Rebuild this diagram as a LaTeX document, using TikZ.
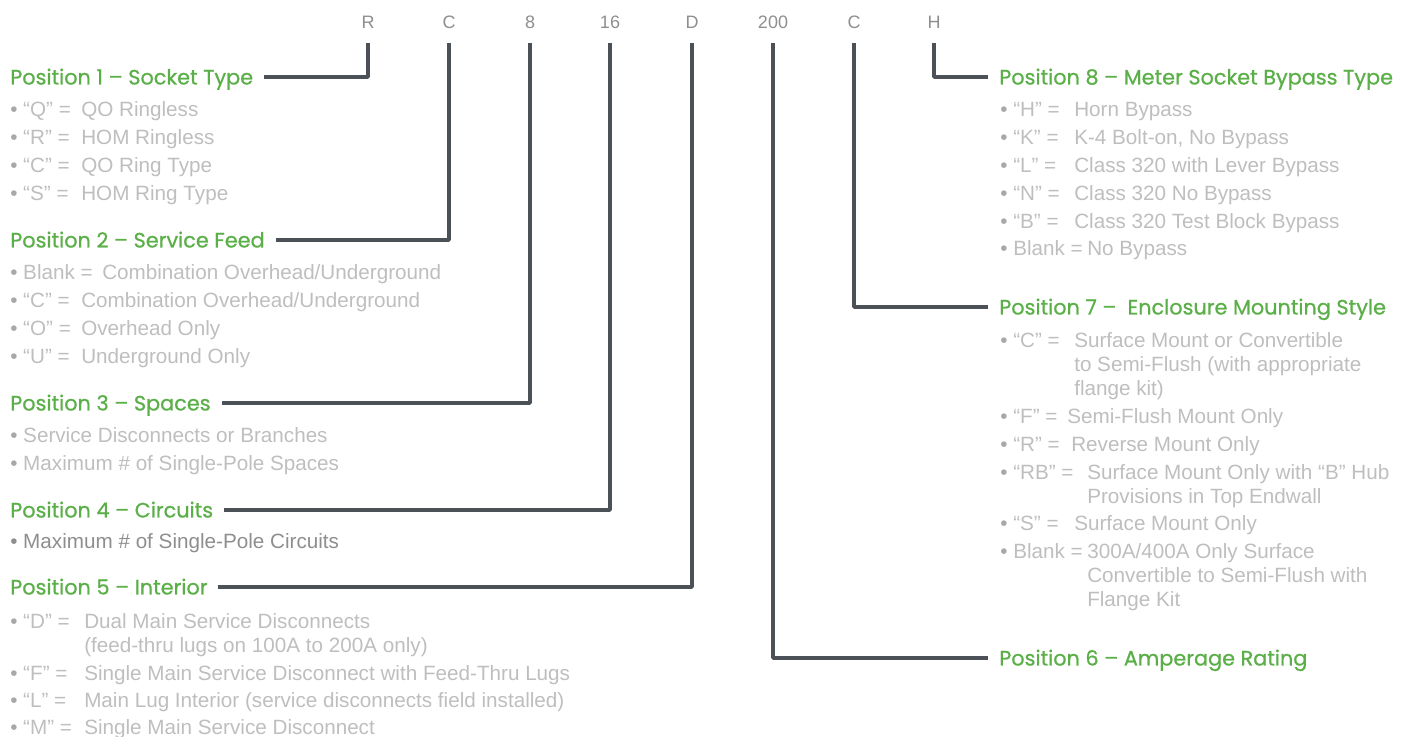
\documentclass[tikz,border=0pt]{standalone}
\usepackage{fontspec}
\setmainfont{Liberation Sans}
\newfontfamily\headfont{Poppins}[FakeBold=0.8]
\definecolor{segreen}{HTML}{5BAF48}
\definecolor{wire}{HTML}{4B5157}
\definecolor{lite}{HTML}{BEBEBE}
\definecolor{dot}{HTML}{A8A8A8}
\definecolor{code}{HTML}{8E8E8E}
\newcommand\itemdot{{\color{dot}\textbullet}\ }
\tikzset{
  digit/.style={font=\fontsize{13.5}{16}\selectfont, text=code, anchor=base, inner sep=0pt},
  head/.style={font=\headfont\fontsize{15.6}{18}\selectfont, text=segreen, anchor=west,
    inner sep=0pt, text height=11.2pt, text depth=0pt},
  item/.style={font=\fontsize{15.5}{18}\selectfont, text=lite, anchor=base west,
    inner sep=0pt, yshift=-5.3pt},
  link/.style={draw=wire, line width=2.6pt, line join=round, shorten <=11pt, shorten >=8pt},
}
\begin{document}
\begin{tikzpicture}[x=0.75pt,y=-0.75pt]
  \useasboundingbox (0,0) rectangle (1416,736);
  \foreach \n/\l/\x in {1/R/368,2/C/449,3/8/530,4/16/610,5/D/692,6/200/773,7/C/854,8/H/934}
    \node[digit] (d\n) at (\x,28) {\l};
  \node[head] (p1) at (10,77) {Position 1 – Socket Type};
  \node[head] (p2) at (10,240) {Position 2 – Service Feed};
  \node[head] (p3) at (10,403) {Position 3 – Spaces};
  \node[head] (p4) at (10,510) {Position 4 – Circuits};
  \node[head] (p5) at (10,587) {Position 5 – Interior};
  \node[head] (p6) at (999,658) {Position 6 – Amperage Rating};
  \node[head] (p7) at (999,307) {Position 7 –\ \ Enclosure Mounting Style};
  \node[head] (p8) at (999,77) {Position 8 – Meter Socket Bypass Type};
  \foreach \n in {1,...,8}
    \draw[link] (d\n) |- (p\n);
  \foreach \x/\y/\dx/\k/\t [count=\i] in {
    10/109/81/{“Q” =}/{QO Ringless}, 10/137/81/{“R” =}/{HOM Ringless},
    10/165/81/{“C” =}/{QO Ring Type}, 10/193/81/{“S” =}/{HOM Ring Type},
    10/272/102/{Blank =}/{Combination Overhead/Underground},
    10/300/81/{“C” =}/{Combination Overhead/Underground},
    10/328/81/{“O” =}/{Overhead Only}, 10/356/81/{“U” =}/{Underground Only},
    10/621/84/{“D” =}/{Dual Main Service Disconnects},
    10/673/84/{“F” =}/{Single Main Service Disconnect with Feed-Thru Lugs},
    10/700/84/{“L” =}/{Main Lug Interior (service disconnects field installed)},
    10/727/84/{“M” =}/{Single Main Service Disconnect},
    1000/109/1074/{“H” =}/{Horn Bypass}, 1000/137/1074/{“K” =}/{K-4 Bolt-on, No Bypass},
    1000/165/1074/{“L” =}/{Class 320 with Lever Bypass},
    1000/193/1074/{“N” =}/{Class 320 No Bypass},
    1000/221/1074/{“B” =}/{Class 320 Test Block Bypass},
    1000/248/1087/{Blank =}/{No Bypass},
    1000/340/1074/{“C” =}/{Surface Mount or Convertible},
    1000/416/1067/{“F” =}/{Semi-Flush Mount Only},
    1000/444/1071/{“R” =}/{Reverse Mount Only},
    1000/472/1087/{“RB” =}/{Surface Mount Only with “B” Hub},
    1000/523/1074/{“S” =}/{Surface Mount Only},
    1000/551/1087/{Blank =}/{300A/400A Only Surface}} {
    \node[item] (k\i) at (\x,\y) {\itemdot\k};
    \node[item] (t\i) at (\dx,\y) {\t};
  }
  \foreach \y/\t [count=\i] in {435/{Service Disconnects or Branches},
    463/{Maximum \# of Single-Pole Spaces}}
    \node[item] (s\i) at (10,\y) {\itemdot\t};
  \node[item, text=code] (c1) at (10,541) {{\color{code}\textbullet}\ Maximum \# of Single-Pole Circuits};
  \foreach \x/\y/\t [count=\i] in {84/645/{(feed-thru lugs on 100A to 200A only)},
    1074/364/{to Semi-Flush (with appropriate}, 1074/388/{flange kit)},
    1087/496/{Provisions in Top Endwall}, 1087/575/{Convertible to Semi-Flush with},
    1087/599/{Flange Kit}}
    \node[item] (w\i) at (\x,\y) {\t};
\end{tikzpicture}
\end{document}
